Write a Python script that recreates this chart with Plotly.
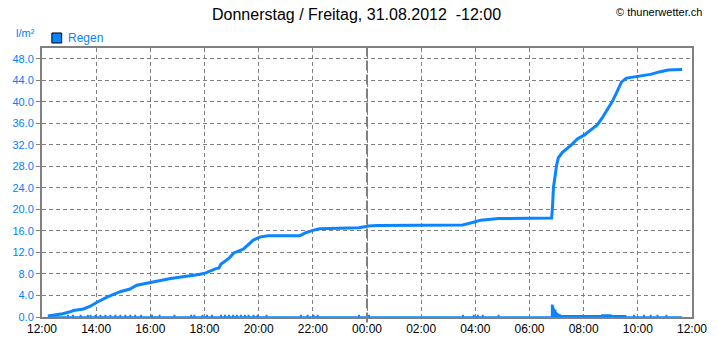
import plotly.graph_objects as go
from datetime import datetime, timedelta

# cumulative rain (l/m²), Thursday 30.08.2012 12:00 -> Friday 31.08.2012 12:00
rain_times = ["12:13", "12:35", "12:46", "13:03", "13:10", "13:32", "13:47", "14:03",
              "14:24", "14:53", "15:15", "15:30", "15:52", "16:14", "16:42", "17:04",
              "17:26", "17:48", "18:03", "18:25", "18:32", "18:36", "18:54", "19:05",
              "19:26", "19:37", "19:48", "20:04", "20:21", "21:31", "21:42", "22:00",
              "22:15", "23:42", "00:04", "00:22", "03:32", "03:56", "04:12", "04:51",
              "06:49", "06:51", "06:53", "06:58", "07:00", "07:04", "07:13", "07:33",
              "07:46", "08:01", "08:12", "08:30", "08:41", "08:52", "09:03", "09:14",
              "09:24", "09:35", "10:06", "10:28", "10:50", "11:07", "11:38"]
rain_total = [0.2, 0.4, 0.6, 1.0, 1.2, 1.5, 2.0, 2.8,
              3.7, 4.7, 5.2, 5.9, 6.3, 6.7, 7.1, 7.4,
              7.6, 7.9, 8.2, 9.0, 9.1, 9.8, 10.9, 11.9,
              12.6, 13.5, 14.3, 14.9, 15.1, 15.1, 15.6, 16.1,
              16.4, 16.6, 16.9, 17.0, 17.1, 17.6, 18.0, 18.3,
              18.4, 20.5, 24.0, 27.0, 28.2, 29.6, 30.6, 32.0,
              33.1, 33.8, 34.5, 35.7, 37.0, 38.5, 40.0, 41.9,
              43.7, 44.4, 44.8, 45.1, 45.6, 45.9, 46.0]

# rain rate: isolated small readings
rate_tick_times = ["12:57", "13:08", "13:25", "13:41", "13:47", "13:58", "14:09", "14:20",
                   "14:31", "14:42", "14:53", "15:04", "15:15", "15:26", "15:39", "16:03",
                   "16:20", "16:53", "17:30", "17:37", "17:55", "18:05", "18:16", "18:36",
                   "18:45", "18:54", "19:03", "19:11", "19:20", "19:29", "19:37", "19:48",
                   "19:57", "20:17", "21:33", "21:48", "22:01", "22:10", "23:42", "00:04",
                   "03:32", "03:56", "04:05", "04:16", "04:51", "09:51", "10:13", "10:28",
                   "10:43", "11:03"]
rate_tick_vals = [0.3] * 0 + [0.3, 0.3, 0.3, 0.3, 0.3, 0.3, 0.3, 0.3,
                              0.3, 0.3, 0.3, 0.3, 0.3, 0.3, 0.3, 0.3,
                              0.3, 0.3, 0.3, 0.3, 0.3, 0.3, 0.3, 0.3,
                              0.3, 0.3, 0.3, 0.3, 0.3, 0.3, 0.3, 0.3,
                              0.3, 0.3, 0.3, 0.3, 0.3, 0.3, 0.3, 0.3,
                              0.3, 0.3, 0.3, 0.3, 0.3, 0.3, 0.3, 0.3,
                              0.3, 0.3]
# rain rate: the morning burst
rate_burst_times = ["06:49", "06:51", "06:53", "06:55", "06:58", "07:00", "07:02", "07:05",
                    "07:08", "07:40", "08:10", "08:35", "08:40", "09:00", "09:33"]
rate_burst_vals = [2.2, 2.0, 1.5, 1.2, 0.8, 0.6, 0.45, 0.35,
                   0.25, 0.25, 0.25, 0.25, 0.35, 0.25, 0.0]

x_tick_labels = ["12:00", "14:00", "16:00", "18:00", "20:00", "22:00", "00:00",
                 "02:00", "04:00", "06:00", "08:00", "10:00", "12:00"]


def ts(hhmm):
    h, m = map(int, hhmm.split(":"))
    return datetime(2012, 8, 30 if h >= 12 else 31, h, m)


x_start = datetime(2012, 8, 30, 12, 0)
x_tick_vals = [x_start + timedelta(hours=2 * i) for i in range(len(x_tick_labels))]
midnight = datetime(2012, 8, 31, 0, 0)

# build the step line of the rate
pts = [(ts(rain_times[0]), 0.0)]
for t, v in zip(rate_tick_times, rate_tick_vals):
    pts.append((ts(t), v))
    pts.append((ts(t) + timedelta(minutes=1), 0.0))
for t, v in zip(rate_burst_times, rate_burst_vals):
    pts.append((ts(t), v))
pts.append((ts(rain_times[-1]), 0.0))
pts.sort(key=lambda p: p[0])

BLUE = "#0A84FF"
GRAY = "#808080"
FONT = "Liberation Sans"

fig = go.Figure()
fig.add_trace(go.Scatter(
    x=[p[0] for p in pts], y=[p[1] for p in pts],
    mode="lines", line=dict(color=BLUE, width=1.5, shape="hv"),
    fill="tozeroy", fillcolor=BLUE, showlegend=False, hoverinfo="skip"))
fig.add_trace(go.Scatter(
    x=[ts(t) for t in rain_times], y=rain_total, name="Regen",
    mode="lines", line=dict(color=BLUE, width=3), showlegend=False))

fig.update_layout(
    width=719, height=353,
    margin=dict(l=40, r=19, t=48, b=36),
    paper_bgcolor="white", plot_bgcolor="white",
    font=dict(family=FONT, size=11, color="black"),
    xaxis=dict(
        range=[x_start, x_start + timedelta(hours=24)],
        tickvals=x_tick_vals, ticktext=x_tick_labels,
        tickfont=dict(size=12, color="black"),
        showgrid=True, gridcolor=GRAY, gridwidth=1, griddash="4px,3px",
        showline=True, linecolor=GRAY, linewidth=2, mirror=True,
        ticks="", zeroline=False),
    yaxis=dict(
        range=[0, 50], dtick=4, tick0=0, tickformat=".1f",
        tickfont=dict(size=11, color="#0080FF"),
        showgrid=True, gridcolor=GRAY, gridwidth=1, griddash="4px,3px",
        showline=True, linecolor=GRAY, linewidth=2, mirror=True,
        ticks="outside", ticklen=4, tickcolor=GRAY, zeroline=False),
)

fig.add_shape(type="line", xref="x", yref="paper", x0=midnight, x1=midnight,
              y0=-0.02, y1=1, line=dict(color=GRAY, width=2, dash="10px,4px"))

# legend
fig.add_shape(type="rect", xref="paper", yref="paper", x0=0.0152, x1=0.0303,
              y0=1.0186, y1=1.0558, fillcolor=BLUE, line=dict(color="black", width=1))
fig.add_annotation(xref="paper", yref="paper", x=0.0364, y=1.0372, text="Regen",
                   showarrow=False, xanchor="left", yanchor="middle",
                   font=dict(size=12, color=BLUE))
fig.add_annotation(xref="paper", yref="paper", x=0.4833, y=1.1227,
                   text="Donnerstag / Freitag, 31.08.2012  -12:00",
                   showarrow=False, xanchor="center", yanchor="middle",
                   font=dict(size=16, color="black"))
fig.add_annotation(xref="paper", yref="paper", x=1.0182, y=1.1338,
                   text="© thunerwetter.ch", showarrow=False,
                   xanchor="right", yanchor="middle", font=dict(size=11, color="black"))
fig.add_annotation(xref="paper", yref="paper", x=-0.0424, y=1.0558,
                   text="l/m²", showarrow=False, xanchor="left", yanchor="middle",
                   font=dict(size=11, color="#0080FF"))

fig.write_html("out.html")
